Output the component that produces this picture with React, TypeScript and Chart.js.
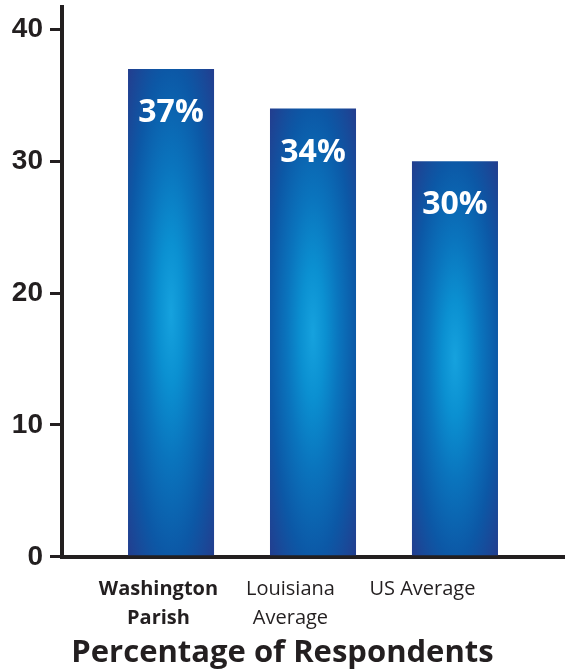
import { useEffect, useRef } from 'react';
import { Chart, registerables } from 'chart.js';

Chart.register(...registerables);

// Survey results, one bar per area
const categories: string[][] = [['Washington', 'Parish'], ['Louisiana', 'Average'], ['US Average']];
const percentages: number[] = [37, 34, 30];
const yTicks: number[] = [0, 10, 20, 30, 40];
const xTitle = 'Percentage of Respondents';

const INK = '#231f20';
const TICK_FONT = "'Liberation Sans', Arial, sans-serif";
const TEXT_FONT = "'Open Sans', 'Noto Sans', sans-serif";
const BAR_PCT = 0.606;

// Elliptical blue glow for each bar, painted as a pattern over the bar's rectangle
function barFill(context: any): any {
  const fallback = '#0b63ad';
  if (context.type !== 'data') return fallback;
  const { chart, dataIndex } = context;
  const xs = chart.scales.x;
  const ys = chart.scales.y;
  if (!xs || !ys) return fallback;
  const value = context.parsed?.y ?? percentages[dataIndex];
  const cx = xs.getPixelForValue(dataIndex);
  const w = Math.abs(xs.getPixelForValue(1) - xs.getPixelForValue(0)) * BAR_PCT;
  const top = ys.getPixelForValue(value);
  const base = ys.getPixelForValue(0);
  const h = base - top;
  if (!(w > 1 && h > 1)) return fallback;
  const pad = 2;
  const off = document.createElement('canvas');
  off.width = Math.ceil(w + pad * 2);
  off.height = Math.ceil(h + pad * 2);
  const g = off.getContext('2d')!;
  g.fillStyle = '#243d8e';
  g.fillRect(0, 0, off.width, off.height);
  g.save();
  g.translate(pad + w / 2, pad + h / 2);
  g.scale(w / 2, h / 2);
  const grad = g.createRadialGradient(0, 0, 0, 0, 0, 1.45);
  grad.addColorStop(0, '#16a2de');
  grad.addColorStop(0.2, '#0b90d1');
  grad.addColorStop(0.42, '#0a74bd');
  grad.addColorStop(0.69, '#0c58a6');
  grad.addColorStop(1, '#253b8c');
  g.fillStyle = grad;
  g.fillRect(-2, -2, 4, 4);
  g.restore();
  const pattern = chart.ctx.createPattern(off, 'no-repeat');
  if (!pattern) return fallback;
  pattern.setTransform(new DOMMatrix().translate(cx - w / 2 - pad, top - pad));
  return pattern;
}

// White percentage written inside the top of each bar
const valueLabels = {
  id: 'valueLabels',
  afterDatasetsDraw(chart: any) {
    const meta = chart.getDatasetMeta(0);
    const ctx = chart.ctx;
    ctx.save();
    ctx.fillStyle = '#ffffff';
    ctx.font = `bold 32px ${TEXT_FONT}`;
    ctx.textAlign = 'center';
    ctx.textBaseline = 'middle';
    meta.data.forEach((bar: any, i: number) => {
      ctx.fillText(`${percentages[i]}%`, bar.x, bar.y + 44);
    });
    ctx.restore();
  },
};

export default function App() {
  const canvasRef = useRef<HTMLCanvasElement>(null);

  useEffect(() => {
    const canvas = canvasRef.current;
    if (!canvas) return;
    const chart = new Chart(canvas, {
      type: 'bar',
      data: {
        datasets: [
          {
            data: percentages.map((v, i) => ({ x: i, y: v })),
            backgroundColor: barFill,
            borderWidth: 0,
            barPercentage: BAR_PCT,
            categoryPercentage: 1,
          },
        ],
      },
      options: {
        responsive: false,
        animation: false,
        layout: { padding: { top: 7, left: 0, right: 0, bottom: 0 } },
        plugins: {
          legend: { display: false },
          tooltip: { enabled: false },
          title: {
            display: true,
            position: 'bottom',
            text: xTitle,
            color: INK,
            font: { family: TEXT_FONT, size: 31, weight: 'bold', lineHeight: 1.2 },
            padding: { top: 0, bottom: 0 },
          },
        },
        scales: {
          x: {
            type: 'linear',
            display: false,
            offset: false,
            min: -0.768,
            max: 2.775,
            ticks: { stepSize: 1, includeBounds: false },
            afterBuildTicks: (s: any) => {
              s.ticks = percentages.map((_, i) => ({ value: i }));
            },
          },
          xl: {
            type: 'linear',
            position: 'bottom',
            offset: false,
            min: -0.731,
            max: 3.08,
            grid: { display: false, drawTicks: false },
            border: { display: true, color: INK, width: 4 },
            ticks: {
              autoSkip: false,
              maxRotation: 0,
              padding: 18,
              color: INK,
              font: (c: any) => ({
                family: TEXT_FONT,
                size: 20,
                weight: c.index === 0 ? 'bold' : 'normal',
                lineHeight: 1.45,
              }),
              callback: (v: any) => categories[v],
            },
            afterBuildTicks: (s: any) => {
              s.ticks = categories.map((_, i) => ({ value: i }));
            },
            afterFit: (s: any) => {
              s.height = 78;
              s.paddingLeft = 0;
              s.paddingRight = 0;
            },
          },
          y: {
            min: 0,
            max: 41.7,
            border: { display: true, color: INK, width: 4 },
            grid: {
              drawOnChartArea: false,
              drawTicks: true,
              tickLength: 12,
              tickWidth: 3,
              tickColor: INK,
              color: INK,
              lineWidth: 3,
            },
            ticks: {
              padding: 7,
              color: INK,
              font: { family: TICK_FONT, size: 28, weight: 'bold' },
            },
            afterBuildTicks: (s: any) => {
              s.ticks = yTicks.map((v) => ({ value: v }));
            },
            afterFit: (s: any) => {
              s.width = 62;
              s.paddingTop = 0;
              s.paddingBottom = 0;
            },
          },
        },
      },
      plugins: [valueLabels],
    } as any);
    return () => chart.destroy();
  }, []);

  return (
    <div style={{ position: 'absolute', left: 0, top: 0, width: 565, height: 672, background: '#ffffff' }}>
      <canvas ref={canvasRef} width={565} height={672} />
    </div>
  );
}
